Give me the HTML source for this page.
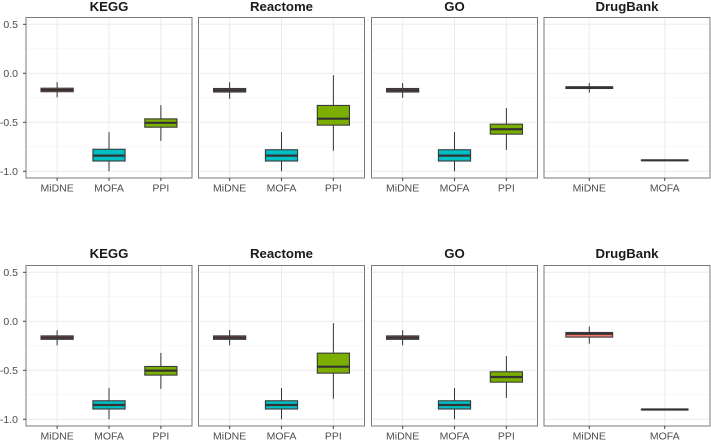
<!DOCTYPE html>
<html>
<head>
<meta charset="utf-8">
<title>Boxplots by pathway database</title>
<style>
html,body{margin:0;padding:0;background:#fff;width:711px;height:441px;overflow:hidden}
svg{display:block;filter:blur(0.3px)}
text{font-family:"Liberation Sans",sans-serif}
</style>
</head>
<body>
<svg id="chart" xmlns="http://www.w3.org/2000/svg" width="711" height="441" viewBox="0 0 711 441"></svg>
<script>
// Tick labels and categories
const yTicks = [0.5, 0, -0.5, -1];
const yTickLabels = ['0.5', '0.0', '-0.5', '-1.0'];
const yMinorTicks = [0.25, -0.25, -0.75];
const threeMethods = ['MiDNE', 'MOFA', 'PPI'];
const twoMethods = ['MiDNE', 'MOFA'];
const methodColors = { MiDNE: '#F8766D', MOFA: '#00BFC4', PPI: '#7CAE00' };

// Each box: [whisker low, q1, median, q3, whisker high]
const topKegg = [[-0.245, -0.188, -0.170, -0.152, -0.09], [-1.0, -0.895, -0.84, -0.775, -0.60], [-0.69, -0.55, -0.505, -0.465, -0.325]];
const topReactome = [[-0.26, -0.191, -0.173, -0.155, -0.09], [-1.0, -0.895, -0.84, -0.78, -0.60], [-0.79, -0.529, -0.463, -0.328, -0.02]];
const topGo = [[-0.25, -0.191, -0.173, -0.155, -0.10], [-1.0, -0.895, -0.84, -0.78, -0.60], [-0.782, -0.621, -0.571, -0.519, -0.354]];
const topDrugBank = [[-0.197, -0.155, -0.146, -0.137, -0.10], [-0.892, -0.89, -0.888, -0.886, -0.884]];
const bottomKegg = [[-0.245, -0.184, -0.167, -0.149, -0.092], [-1.0, -0.895, -0.854, -0.811, -0.68], [-0.69, -0.549, -0.503, -0.461, -0.323]];
const bottomReactome = [[-0.245, -0.184, -0.167, -0.149, -0.088], [-1.0, -0.895, -0.854, -0.811, -0.68], [-0.79, -0.529, -0.463, -0.325, -0.02]];
const bottomGo = [[-0.245, -0.184, -0.167, -0.149, -0.092], [-1.0, -0.895, -0.854, -0.811, -0.68], [-0.782, -0.621, -0.568, -0.515, -0.354]];
const bottomDrugBank = [[-0.228, -0.161, -0.127, -0.114, -0.054], [-0.904, -0.903, -0.90, -0.897, -0.896]];

const panelTitles = ['KEGG', 'Reactome', 'GO', 'DrugBank'];
const rowData = [
  [topKegg, topReactome, topGo, topDrugBank],
  [bottomKegg, bottomReactome, bottomGo, bottomDrugBank]
];
const rowNames = ['top', 'bottom'];

// Layout
const panelLefts = [26, 198.5, 371.5, 544];
const panelWidth = 166;
const rowLayout = [
  { top: 17.5, bottom: 178, zero: 73.3, titleY: 11, labelY: 191.7 },
  { top: 265.5, bottom: 426, zero: 321.3, titleY: 258, labelY: 439.7 }
];
const unitPx = 98;
const svgNS = 'http://www.w3.org/2000/svg';
const svg = document.getElementById('chart');

function add(parent, tag, attrs) {
  const el = document.createElementNS(svgNS, tag);
  for (const k in attrs) el.setAttribute(k, attrs[k]);
  parent.appendChild(el);
  return el;
}

rowData.forEach(function (panels, r) {
  const L = rowLayout[r];
  const yScale = function (v) { return L.zero - v * unitPx; };

  panels.forEach(function (boxes, p) {
    const left = panelLefts[p];
    const right = left + panelWidth;
    const cats = boxes.length === 3 ? threeMethods : twoMethods;
    const step = panelWidth / (cats.length - 1 + 1.2);
    const xScale = function (i) { return left + step * (0.6 + i); };
    const boxW = step * 0.62;
    const prefix = rowNames[r] + '-' + panelTitles[p].toLowerCase();

    const g = add(svg, 'g', {});
    
    

    const title = add(g, 'text', { x: left + panelWidth / 2, y: L.titleY, 'text-anchor': 'middle', 'font-size': '13.2', 'font-weight': 'bold', fill: '#1a1a1a' });
    title.textContent = panelTitles[p];
    
    

    const bg = add(g, 'rect', { x: left, y: L.top, width: panelWidth, height: L.bottom - L.top, fill: '#fff' });
    
    

    yMinorTicks.forEach(function (v) {
      const line = add(g, 'line', { x1: left, x2: right, y1: yScale(v), y2: yScale(v), stroke: '#f2f2f2', 'stroke-width': 0.7 });
      
      
    });
    yTicks.forEach(function (v) {
      const line = add(g, 'line', { x1: left, x2: right, y1: yScale(v), y2: yScale(v), stroke: '#ebebeb', 'stroke-width': 1 });
      
      
    });
    cats.forEach(function (c, i) {
      const line = add(g, 'line', { x1: xScale(i), x2: xScale(i), y1: L.top, y2: L.bottom, stroke: '#ebebeb', 'stroke-width': 1 });
      
      
    });

    boxes.forEach(function (b, i) {
      const cx = xScale(i);
      const boxG = add(g, 'g', {});
      
      
      add(boxG, 'line', { x1: cx, x2: cx, y1: yScale(b[4]), y2: yScale(b[3]), stroke: '#333', 'stroke-width': 1 });
      add(boxG, 'line', { x1: cx, x2: cx, y1: yScale(b[1]), y2: yScale(b[0]), stroke: '#333', 'stroke-width': 1 });
      add(boxG, 'rect', { x: cx - boxW / 2, y: yScale(b[3]), width: boxW, height: yScale(b[1]) - yScale(b[3]), fill: methodColors[cats[i]], stroke: '#3a3a3a', 'stroke-width': 1.1 });
      add(boxG, 'line', { x1: cx - boxW / 2, x2: cx + boxW / 2, y1: yScale(b[2]), y2: yScale(b[2]), stroke: '#333', 'stroke-width': 2.2 });
    });

    const border = add(g, 'rect', { x: left, y: L.top, width: panelWidth, height: L.bottom - L.top, fill: 'none', stroke: '#7a7a7a', 'stroke-width': 1 });
    
    

    cats.forEach(function (c, i) {
      const tick = add(g, 'line', { x1: xScale(i), x2: xScale(i), y1: L.bottom, y2: L.bottom + 3, stroke: '#444', 'stroke-width': 1 });
      
      
      const label = add(g, 'text', { x: xScale(i), y: L.labelY, 'text-anchor': 'middle', 'font-size': '10.5', fill: '#4d4d4d' });
      label.textContent = c;
      
      
    });
  });

  yTicks.forEach(function (v, i) {
    const tick = add(svg, 'line', { x1: 23, x2: 26, y1: yScale(v), y2: yScale(v), stroke: '#444', 'stroke-width': 1 });
    
    
    const label = add(svg, 'text', { x: 18, y: yScale(v) + 3.8, 'text-anchor': 'end', 'font-size': '10.5', fill: '#4d4d4d' });
    label.textContent = yTickLabels[i];
    
    
  });
});
</script>
</body>
</html>
